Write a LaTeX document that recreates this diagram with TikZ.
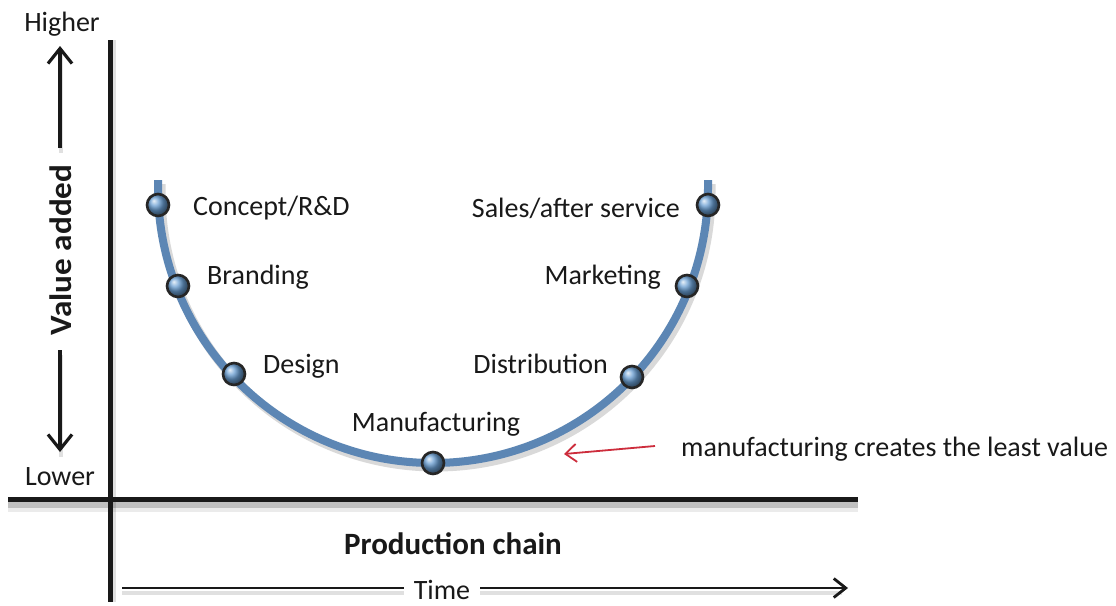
\documentclass[tikz,border=0pt]{standalone}
\usepackage{fontspec}
\setmainfont{Carlito}
\usetikzlibrary{arrows.meta}
\definecolor{curveblue}{RGB}{92,134,180}
\definecolor{ballblue}{RGB}{105,158,210}
\definecolor{redarrow}{RGB}{205,45,60}
\definecolor{txt}{RGB}{25,25,25}
\begin{document}
\begin{tikzpicture}[x=1pt,y=-1pt,
  axis/.style={line width=5pt, black!90},
  axshadow/.style={line width=6pt, black, opacity=0.18},
  updown/.style={line width=3.2pt, black!90, -{Straight Barb[length=15pt,width=24pt]}},
  udshadow/.style={line width=4pt, black, opacity=0.12},
  timearrow/.style={line width=2.8pt, black!90, -{Straight Barb[length=12pt,width=19pt]}},
  curve/.style={line width=8pt, curveblue},
  curveshadow/.style={line width=9pt, black, opacity=0.15},
  ball/.style={circle, minimum size=22pt, inner sep=0pt, draw=black!85, line width=2.6pt, ball color=ballblue},
  lbl/.style={font=\fontsize{28}{32}\selectfont, text=txt, inner sep=0pt},
  bold/.style={font=\fontsize{31}{36}\selectfont\bfseries, text=txt, inner sep=0pt},
  redarr/.style={line width=1.8pt, redarrow, -{Straight Barb[length=11pt,width=18pt]}}]
\useasboundingbox (0,0) rectangle (1116,605);
\fill[white] (0,0) rectangle (1116,605);
% axes coordinates
\coordinate (vtop) at (110,40);
\coordinate (vbot) at (110,602);
\coordinate (hl) at (8,499);
\coordinate (hr) at (858,499);
% shadows
\draw[axshadow] ([yshift=-6]hl) -- ([yshift=-6]hr);
\draw[axshadow, opacity=0.08, line width=10pt] ([yshift=-8]hl) -- ([yshift=-8]hr);
\draw[axshadow, opacity=0.12] ([xshift=3]vtop) -- ([xshift=3]vbot);
% axes
\draw[axis] (vtop) -- (vbot);
\draw[axis] (hl) -- (hr);
% left labels
\node[lbl] (higher) at (62,24) {Higher};
\node[lbl] (lower) at (60,477) {Lower};
\node[bold, rotate=90, xscale=1.07] (value) at (61,250) {Value added};
\coordinate (upstart) at (60,148);
\coordinate (uptip) at (60,46);
\coordinate (dnstart) at (60,350);
\coordinate (dntip) at (60,452);
\draw[udshadow] ([shift={(1,5)}]upstart) -- ([shift={(1,5)}]uptip);
\draw[udshadow] ([shift={(1,5)}]dnstart) -- ([shift={(1,5)}]dntip);
\draw[updown] (upstart) -- (uptip);
\draw[updown] (dnstart) -- (dntip);
% production chain / time
\node[bold] (prod) at (453,544) {Production chain};
\coordinate (tstart) at (122,588);
\coordinate (tend) at (848,588);
\draw[udshadow] ([shift={(0,5)}]tstart) -- ([shift={(-6,5)}]tend);
\draw[timearrow] (tstart) -- (tend);
\node[lbl, fill=white, inner xsep=10pt, inner ysep=4pt] (time) at (442,590) {Time};
% the U curve
\coordinate (ctr) at (433,188);
\coordinate (lend) at (158,180);
\coordinate (rend) at (708,180);
\draw[curveshadow] ([shift={(3,4)}]lend) -- ++(0,8) arc[start angle=180, end angle=0, radius=275] -- ([shift={(3,4)}]rend);
\draw[curve] (lend) -- (158,188) arc[start angle=180, end angle=0, radius=275] -- (rend);
% balls
\node[ball] (concept) at (158,205) {};
\node[ball] (branding) at (178,286) {};
\node[ball] (design) at (234,374) {};
\node[ball] (manuf) at (433,463) {};
\node[ball] (distrib) at (632,377) {};
\node[ball] (market) at (687,286) {};
\node[ball] (sales) at (708,205) {};
% labels
\node[lbl, anchor=west] (tconcept) at (193,208) {Concept/R\&D};
\node[lbl, anchor=west] (tbranding) at (207,277) {Branding};
\node[lbl, anchor=west] (tdesign) at (263,366) {Design};
\node[lbl] (tmanuf) at (436,424) {Manufacturing};
\node[lbl, anchor=east] (tsales) at (680,208) {Sales/after service};
\node[lbl, anchor=east] (tmarket) at (661,277) {Marketing};
\node[lbl, anchor=east] (tdistrib) at (608,364) {Distribution};
\node[lbl, anchor=west] (note) at (681,449) {manufacturing creates the least value};
\coordinate (rtip) at (564,454);
\path (note.west) ++(-26,-3) coordinate (rstart);
\draw[redarr] (rstart) -- (rtip);
\end{tikzpicture}
\end{document}
